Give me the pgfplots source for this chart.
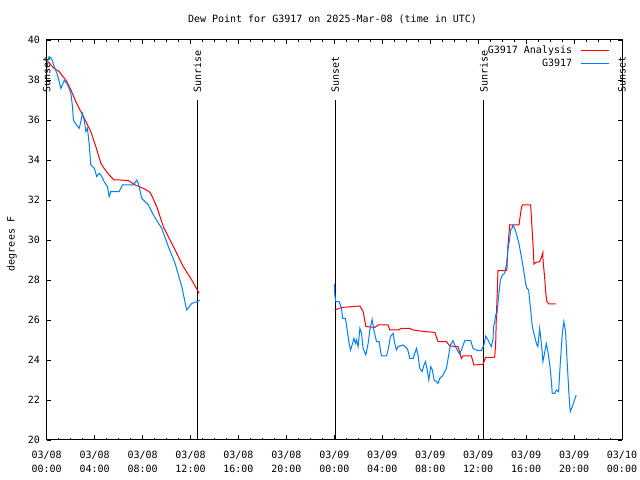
\documentclass[border=0pt]{standalone}
\usepackage{fontspec}
\setmainfont{DejaVu Sans Mono}
\usepackage{pgfplots}
\pgfplotsset{compat=1.18}
\definecolor{anared}{RGB}{255,0,0}
\definecolor{obsblue}{RGB}{0,128,255}

\begin{document}
\begin{tikzpicture}[font=\fontsize{10bp}{14bp}\selectfont]
  \begin{axis}[
    at={(46.7bp,40bp)}, anchor=south west,
    scale only axis, width=575.3bp, height=400bp,
    xmin=0, xmax=48, ymin=20, ymax=40,
    xtick={0,4,...,48},
    xticklabels={{03/08\\00:00},{03/08\\04:00},{03/08\\08:00},{03/08\\12:00},
                 {03/08\\16:00},{03/08\\20:00},{03/09\\00:00},{03/09\\04:00},
                 {03/09\\08:00},{03/09\\12:00},{03/09\\16:00},{03/09\\20:00},
                 {03/10\\00:00}},
    minor x tick num=3,
    ytick={20,22,...,40},
    tick align=inside, tick pos=both,
    major tick length=4.5bp, minor tick length=2.2bp,
    tick style={black, line width=0.8bp},
    axis line style={line width=1bp},
    xticklabel style={align=center, yshift=-8bp},
    yticklabel style={xshift=-3.3bp},
    /pgf/number format/assume math mode=true,
    unbounded coords=jump,
    clip=false,
    no markers,
    legend style={draw=none, fill=none, at={(1,1)}, anchor=north east,
                  xshift=-12bp, yshift=-5.6bp, inner sep=0pt,
                  nodes={inner sep=0pt, text height=8bp, text depth=2bp},
                  row sep=2.7bp, column sep=8.7bp},
    legend cell align=right,
    legend plot pos=right,
    legend image code/.code={\draw[#1] (0bp,0bp) -- (28bp,0bp);},
  ]
    % sunrise / sunset markers
    \addplot[black, line width=1bp, forget plot] coordinates {(12.57,20) (12.57,37)};
    \addplot[black, line width=1bp, forget plot] coordinates {(24.07,20) (24.07,37)};
    \addplot[black, line width=1bp, forget plot] coordinates {(36.48,20) (36.48,37)};
    \node[rotate=90, anchor=west, inner sep=0pt] at ([yshift=7.5bp]axis cs:0,37) {Sunset};
    \node[rotate=90, anchor=west, inner sep=0pt] at ([yshift=7.5bp]axis cs:12.57,37) {Sunrise};
    \node[rotate=90, anchor=west, inner sep=0pt] at ([yshift=7.5bp]axis cs:24.07,37) {Sunset};
    \node[rotate=90, anchor=west, inner sep=0pt] at ([yshift=7.5bp]axis cs:36.48,37) {Sunrise};
    \node[rotate=90, anchor=west, inner sep=0pt] at ([yshift=7.5bp]axis cs:48,37) {Sunset};

    \addplot[anared, line width=1bp] coordinates {
      (0.04,38.95) (0.63,38.58) (1.04,38.42) (1.68,37.92) (2.02,37.5) (2.43,36.92)
      (2.85,36.42) (3.27,35.92) (3.68,35.42) (4.1,34.67) (4.52,33.83) (4.79,33.58)
      (5.21,33.25) (5.63,33.0) (6.13,33.0) (6.82,32.97) (7.38,32.75) (8.07,32.58)
      (8.54,32.42) (8.68,32.33) (9.18,31.67) (9.73,30.67) (10.57,29.67) (11.4,28.67)
      (12.1,28.0) (12.57,27.5) (12.73,27.33)
      (18,nan)
      (24.04,26.5) (24.6,26.63) (25.57,26.67) (26.13,26.7) (26.4,26.42) (26.63,25.67)
      (27.38,25.63) (27.65,25.75) (28.48,25.75) (28.63,25.5) (29.32,25.5) (29.6,25.58)
      (30.29,25.58) (30.57,25.5) (31.54,25.42) (32.38,25.38) (32.65,24.92) (33.35,24.92)
      (33.63,24.7) (34.32,24.67) (34.6,24.08) (34.73,24.2) (35.43,24.2) (35.65,23.75)
      (36.4,23.78) (36.54,24.0) (36.63,24.13) (37.38,24.13) (37.46,24.83) (37.52,26.25)
      (37.6,27.5) (37.65,28.47) (38.35,28.47) (38.4,28.6) (38.48,29.67) (38.63,30.75)
      (39.4,30.75) (39.52,31.25) (39.6,31.58) (39.68,31.75) (40.38,31.75) (40.43,31.25)
      (40.52,30.33) (40.63,29.17) (40.65,28.8) (40.79,28.87) (41.13,28.92) (41.27,29.13)
      (41.4,29.37) (41.41,28.97) (41.54,28.17) (41.63,27.42) (41.73,26.92) (41.9,26.8)
      (42.46,26.8)
    };
    \addlegendentry{G3917 Analysis}

    \addplot[obsblue, line width=1bp] coordinates {
      (0.04,38.9) (0.21,39.17) (0.40,39.08) (0.63,38.67) (0.9,38.25) (1.18,37.58)
      (1.46,37.97) (1.68,37.83) (1.88,37.58) (2.02,37.33) (2.15,36.67) (2.23,36.0)
      (2.48,35.75) (2.71,35.58) (2.85,35.92) (2.98,36.33) (3.13,36.0) (3.27,35.42)
      (3.4,35.58) (3.54,34.83) (3.68,33.75) (3.82,33.67) (3.96,33.6) (4.18,33.17)
      (4.38,33.33) (4.52,33.25) (4.79,32.92) (5.07,32.67) (5.21,32.17) (5.35,32.42)
      (6.04,32.42) (6.32,32.75) (7.23,32.75) (7.52,33.0) (7.65,32.83) (7.93,32.08)
      (8.48,31.75) (8.9,31.25) (9.6,30.58) (10.15,29.67) (10.71,28.83) (11.27,27.67)
      (11.68,26.5) (12.1,26.83) (12.57,26.92) (12.79,27.0)
      (18,nan)
      (24.0,27.8) (24.04,27.25) (24.12,26.92) (24.4,26.92) (24.6,26.58) (24.68,26.08)
      (24.93,26.08) (25.07,25.5) (25.23,24.83) (25.35,24.5) (25.48,24.75) (25.63,25.08)
      (25.77,24.83) (25.85,25.0) (25.98,24.67) (26.13,25.58) (26.27,25.33) (26.4,24.58)
      (26.63,24.25) (26.82,24.83) (26.96,25.5) (27.15,26.03) (27.32,25.42) (27.52,24.92)
      (27.73,24.92) (27.93,24.2) (28.35,24.2) (28.48,24.5) (28.68,25.17) (28.9,25.33)
      (29.04,24.83) (29.18,24.5) (29.32,24.67) (29.73,24.75) (30.02,24.6) (30.13,24.5)
      (30.29,24.08) (30.57,24.08) (30.85,24.58) (30.98,24.25) (31.13,23.58) (31.32,23.42)
      (31.48,23.75) (31.6,23.92) (31.73,23.58) (31.88,23.0) (32.04,23.67) (32.18,23.5)
      (32.32,23.0) (32.52,22.92) (32.65,22.83) (32.79,23.08) (33.07,23.25) (33.35,23.58)
      (33.54,24.25) (33.68,24.75) (33.9,24.97) (34.1,24.67) (34.32,24.42) (34.46,24.3)
      (34.65,24.58) (34.88,24.97) (35.38,24.97) (35.57,24.58) (35.98,24.47) (36.27,24.47)
      (36.48,24.75) (36.63,25.2) (36.82,25.0) (36.96,24.83) (37.1,24.67) (37.23,25.0)
      (37.29,25.67) (37.38,25.92) (37.46,26.25) (37.57,26.33) (37.65,26.83) (37.73,27.33)
      (37.85,28.0) (38.02,28.25) (38.21,28.33) (38.35,28.75) (38.4,29.0) (38.48,29.5)
      (38.63,30.08) (38.71,30.5) (38.82,30.58) (38.9,30.75) (39.04,30.58) (39.18,30.33)
      (39.4,29.83) (39.6,29.17) (39.79,28.5) (39.96,27.83) (40.07,27.58) (40.21,27.5)
      (40.29,27.0) (40.38,26.5) (40.52,25.67) (40.65,25.33) (40.79,25.0) (40.9,24.75)
      (40.98,24.67) (41.13,25.58) (41.21,25.17) (41.35,24.33) (41.4,23.92) (41.54,24.33)
      (41.68,24.83) (41.82,24.42) (41.96,23.83) (42.1,23.0) (42.18,22.33) (42.38,22.33)
      (42.52,22.5) (42.71,22.42) (42.85,23.83) (43.02,25.33) (43.15,25.92) (43.29,25.42)
      (43.4,24.17) (43.57,22.33) (43.68,21.42) (43.85,21.67) (44.04,22.0) (44.18,22.25)
    };
    \addlegendentry{G3917}
  \end{axis}
  \node[anchor=base] at (332.5bp,457bp) {Dew Point for G3917 on 2025-Mar-08 (time in UTC)};
  \node[rotate=90] at (12bp,236bp) {degrees F};
  \pgfresetboundingbox
  \path (0bp,0bp) rectangle (640bp,480bp);
\end{tikzpicture}
\end{document}
